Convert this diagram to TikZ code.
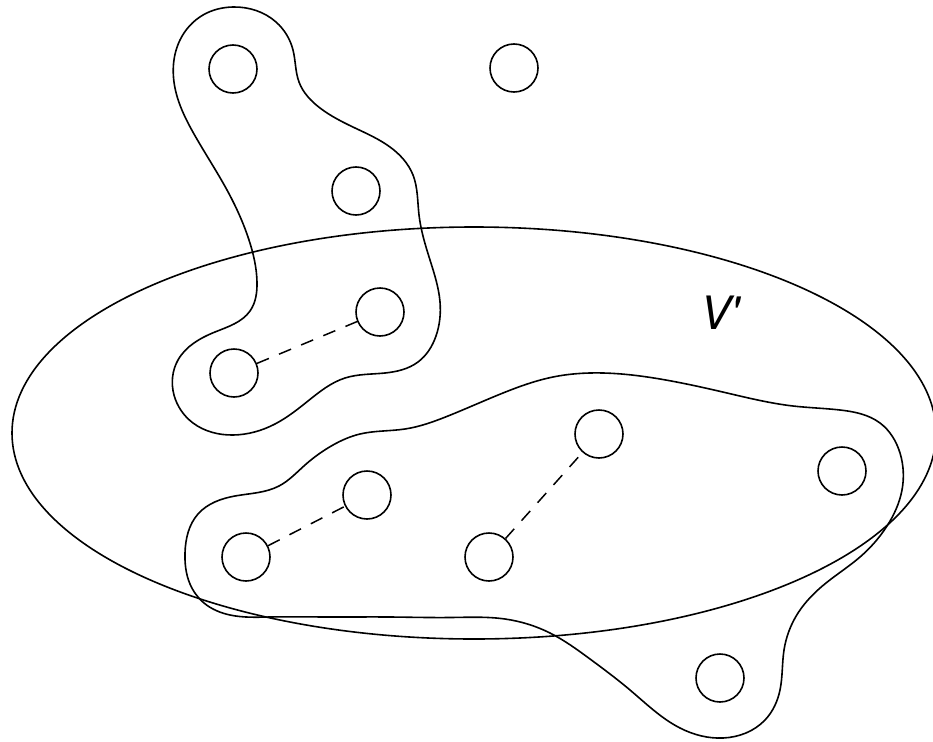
\documentclass[tikz,border=0pt]{standalone}
\usepackage{fontspec}
\setsansfont{TeX Gyre Heros}
\usetikzlibrary{hobby}
\begin{document}
\begin{tikzpicture}[x=1pt,y=-1pt,
  vtx/.style={circle,draw,line width=1.6pt,minimum size=48pt,inner sep=0pt},
  outline/.style={line width=1.6pt},
  link/.style={line width=1.5pt,dash pattern=on 13pt off 11pt}]
\useasboundingbox (0,0) rectangle (933,741);
% vertices
\node[vtx] (a) at (233,69) {};
\node[vtx] (b) at (514,68) {};
\node[vtx] (c) at (356,191) {};
\node[vtx] (d) at (380,312) {};
\node[vtx] (e) at (234,373) {};
\node[vtx] (f) at (367,495) {};
\node[vtx] (g) at (599,434) {};
\node[vtx] (h) at (842,471) {};
\node[vtx] (i) at (246,557) {};
\node[vtx] (j) at (489,557) {};
\node[vtx] (k) at (720,678) {};
% dashed links
\draw[link] (e) -- (d);
\draw[link] (i) -- (f);
\draw[link] (j) -- (g);
% ellipse V'
\draw[outline] (474,433) ellipse [x radius=462, y radius=206];
\node (lbl) at (720,313) {\fontsize{46}{50}\selectfont\sffamily\itshape V\textquotesingle};
% upper blob
\draw[outline,use Hobby shortcut,closed=true]
 (233,7) .. (276,22) .. (293,50) .. (299,82) .. (320,108) .. (355,128) .. (390,147)
 .. (413,175) .. (419,215) .. (430,260) .. (440,302) .. (436,336) .. (418,362)
 .. (385,373) .. (345,378) .. (308,401) .. (275,424) .. (233,435) .. (193,423)
 .. (174,395) .. (178,360) .. (215,332) .. (250,311) .. (257,282) .. (249,240)
 .. (227,190) .. (194,134) .. (175,88) .. (180,40) .. (203,15);
% lower blob
\draw[outline,use Hobby shortcut,closed=true]
 (185,553) .. (198,514) .. (235,496) .. (279,486) .. (305,465)
 .. (333,445) .. (360,434) .. (405,429) .. (448,416) .. (503,393) .. (553,377)
 .. (603,373) .. (660,379) .. (727,393) .. (793,406) .. (840,410) .. (880,423)
 .. (900,453) .. (902,490) .. (887,526) .. (860,557) .. (826,583) .. (798,613)
 .. (784,650) .. (780,690) .. (765,720) .. (723,738) .. (680,728) .. (630,690)
 .. (590,659) .. (550,633) .. (505,619) .. (450,617.5) .. (390,617) .. (330,617)
 .. (270,617) .. (230,615) .. (204,603) .. (190,584);
\end{tikzpicture}
\end{document}
